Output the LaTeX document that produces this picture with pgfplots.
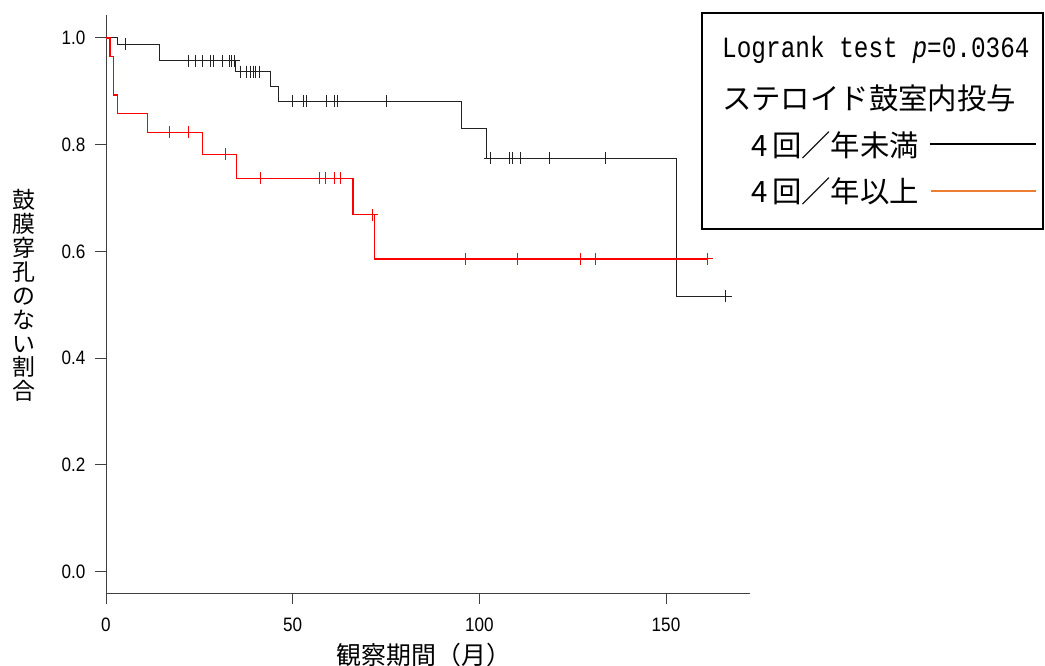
\documentclass[border=0pt]{standalone}
\usepackage{pgfplots}
\pgfplotsset{compat=1.18}
\usepackage{fontspec}
\setmainfont{Liberation Sans}
\newfontfamily\cjk{Noto Sans CJK JP}
\newfontfamily\ticksfont[FakeStretch=0.88]{Liberation Sans}
\newfontfamily\legmono[FakeStretch=0.83]{Liberation Mono}
\definecolor{kmred}{HTML}{FF0000}
\definecolor{legorange}{HTML}{ED7D31}
\definecolor{axgray}{HTML}{404040}
\definecolor{kmblack}{HTML}{222222}

\begin{document}
\begin{tikzpicture}
\useasboundingbox (-106bp,-73bp) rectangle (939bp,593bp);
\begin{axis}[
 scale only axis, width=644bp, height=578bp,
 xmin=0, xmax=172.5, ymin=-0.04, ymax=1.043,
 axis lines*=left, axis line style={axgray, line width=0.9bp, -},
 tick align=outside, major tick length=11bp, tick style={axgray, line width=0.9bp},
 xtick={0,50,100,150}, xticklabels={0,50,100,150},
 ytick={0,0.2,0.4,0.6,0.8,1.0}, yticklabels={0.0,0.2,0.4,0.6,0.8,1.0},
 ticklabel style={font=\ticksfont\fontsize{19.5}{21}\selectfont, text=black},
 xticklabel style={yshift=-10bp},
 yticklabel style={xshift=-6bp},
 minor tick num=0,
]
% group 1: < 4 times/year (black)
\addplot[kmblack, line width=1bp, const plot, forget plot] coordinates {
 (0,1) (3.2,0.988) (14.2,0.957) (34.7,0.937) (44.0,0.909) (46.3,0.881)
 (95.2,0.830) (102.0,0.775) (152.9,0.516) (166.0,0.516)};
\addplot[only marks, mark=+, mark size=6bp, kmblack, mark options={line width=1bp}, forget plot] coordinates {
 (5.1,0.988)
 (22.2,0.957) (24.1,0.957) (25.9,0.957) (28.0,0.957) (28.9,0.957) (31.1,0.957) (33.0,0.957) (33.6,0.957) (34.3,0.957)
 (36.1,0.937) (37.5,0.937) (38.7,0.937) (39.4,0.937) (40.1,0.937) (41.2,0.937)
 (49.9,0.881) (53.0,0.881) (53.8,0.881) (59.1,0.881) (61.3,0.881) (62.0,0.881) (75.0,0.881)
 (102.9,0.775) (108.0,0.775) (108.8,0.775) (111.1,0.775) (118.7,0.775) (133.7,0.775)
 (166.0,0.516)};
% group 2: >= 4 times/year (red)
\addplot[kmred, line width=1.3bp, const plot, forget plot] coordinates {
 (0,1) (1.1,0.965) (2.1,0.893) (3.0,0.858) (11.1,0.823) (25.9,0.782)
 (35.0,0.737) (66.2,0.669) (72.0,0.586) (161.1,0.586)};
\addplot[only marks, mark=+, mark size=6bp, kmred, mark options={line width=1bp}, forget plot] coordinates {
 (17.1,0.823) (22.2,0.823)
 (32.1,0.782)
 (41.3,0.737) (57.1,0.737) (58.9,0.737) (61.2,0.737) (62.9,0.737)
 (71.3,0.669)
 (96.2,0.586) (110.1,0.586) (127.0,0.586) (131.0,0.586) (161.1,0.586)};
\end{axis}
% legend
\draw[black, line width=1.2bp] (596bp,364bp) rectangle (937bp,580bp);
\node[anchor=base west, inner sep=0] at (616bp,535bp) {\legmono\fontsize{29.5}{30}\selectfont Logrank test {\itshape p}=0.0364};
\node[anchor=west, inner sep=0] at (616bp,495bp) {\cjk\fontsize{29.5}{30}\selectfont ステロイド鼓室内投与};
\node[anchor=west, inner sep=0] at (645.7bp,448bp) {\cjk\fontsize{29.5}{30}\selectfont 4\hspace{4bp}回／年未満};
\node[anchor=west, inner sep=0] at (645.7bp,401.5bp) {\cjk\fontsize{29.5}{30}\selectfont 4\hspace{4bp}回／年以上};
\draw[black, line width=2.2bp] (824bp,448.7bp) -- (930bp,448.7bp);
\draw[legorange, line width=2.2bp] (825bp,402bp) -- (930bp,402bp);
% axis labels
\node[align=center, font=\cjk\fontsize{23}{24}\selectfont, inner sep=0] at (-82bp,297.5bp) {鼓\\膜\\穿\\孔\\の\\な\\い\\割\\合};
\node[font=\cjk\fontsize{25}{26}\selectfont, inner sep=0] at (318bp,-62bp) {観察期間（月）};
\end{tikzpicture}
\end{document}
